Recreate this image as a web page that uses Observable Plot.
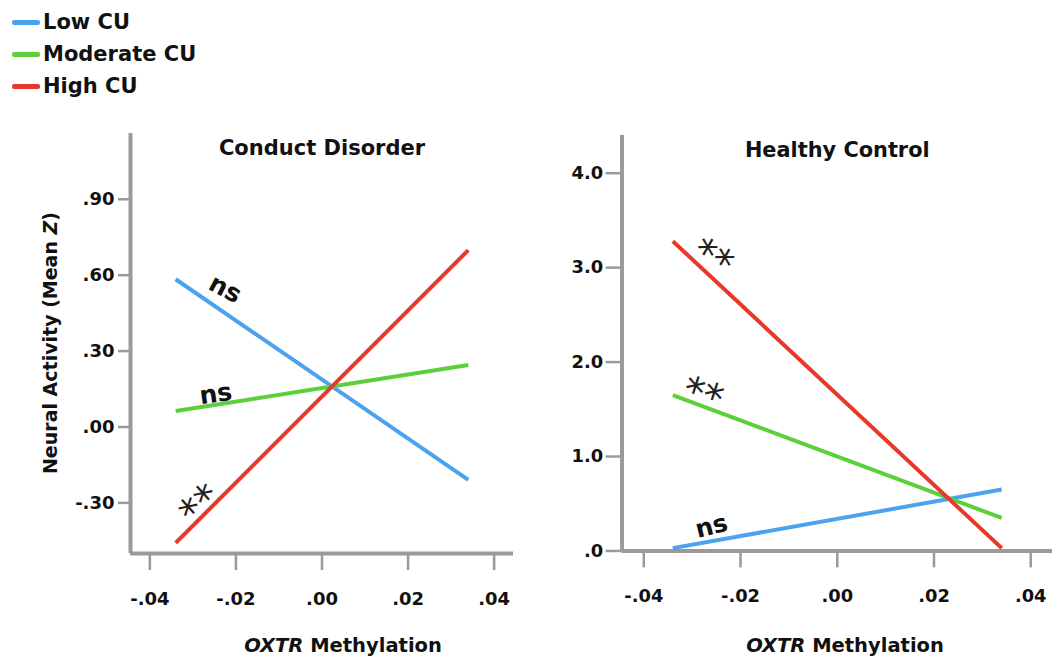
<!DOCTYPE html>
<html>
<head>
<meta charset="utf-8">
<script src="https://cdn.jsdelivr.net/npm/d3@7"></script>
<script src="https://cdn.jsdelivr.net/npm/@observablehq/plot@0.6"></script>
<style>
  body { margin: 0; background: #fff; }
  #wrap { position: relative; width: 1052px; height: 662px; font-family: "DejaVu Sans", sans-serif; color: #111; overflow: hidden; }
  .abs { position: absolute; }
  .legend-item { position: absolute; left: 12px; display: flex; align-items: center; font-weight: bold; font-size: 21px; white-space: nowrap; line-height: 1; }
  .legend-item .sw { width: 28px; height: 5px; border-radius: 2px; margin-right: 3px; }
  .xlab { position: absolute; font-weight: bold; font-size: 19.5px; white-space: nowrap; transform: translate(-50%, -50%); line-height: 1; }
  .ylab { position: absolute; font-weight: bold; font-size: 19px; white-space: nowrap; transform: translate(-50%, -50%) rotate(-90deg); line-height: 1; }
</style>
</head>
<body>
<div id="wrap">
  <div id="legend"></div>
  <div id="left" class="abs" style="left:0px; top:120px;"></div>
  <div id="right" class="abs" style="left:540px; top:120px;"></div>
  <div class="ylab" style="left:50px; top:343px;">Neural Activity (Mean <i>Z</i>)</div>
  <div class="xlab" style="left:343px; top:646px;"><i>OXTR</i> Methylation</div>
  <div class="xlab" style="left:845px; top:646px;"><i>OXTR</i> Methylation</div>
</div>
<script>
// ---- data ----
const series = ["Low CU", "Moderate CU", "High CU"];
const colors = ["#4ba3ef", "#5ccf3b", "#e8382b"];
const xEnds = [-0.034, 0.034];
const xTicks = [-0.04, -0.02, 0.00, 0.02, 0.04];

const panelTitles = ["Conduct Disorder", "Healthy Control"];

// Conduct Disorder panel
const cdLow = [0.584, -0.209];
const cdModerate = [0.063, 0.245];
const cdHigh = [-0.458, 0.699];
const cdYTicks = [-0.30, 0.00, 0.30, 0.60, 0.90];
const cdYDomain = [-0.5, 1.16];

// Healthy Control panel
const hcLow = [0.03, 0.65];
const hcModerate = [1.65, 0.35];
const hcHigh = [3.28, 0.03];
const hcYTicks = [0, 1, 2, 3, 4];
const hcYDomain = [0, 4.4];

const xDomain = [-0.0445, 0.0445];

// significance annotations (text, x, y, rotation)
const cdNotes = [
  {text: "ns", x: -0.0225, y: 0.545, rotate: 28, style: "italic"},
  {text: "ns", x: -0.0247, y: 0.13, rotate: -8, style: "normal"},
  {text: "**", x: -0.0282, y: -0.275, rotate: -42, style: "normal"}
];
const hcNotes = [
  {text: "**", x: -0.0258, y: 3.19, rotate: 30, style: "normal"},
  {text: "**", x: -0.0278, y: 1.74, rotate: 18, style: "normal"},
  {text: "ns", x: -0.026, y: 0.26, rotate: -14, style: "normal"}
];

// ---- helpers ----
function rowsFor(valuesList) {
  const rows = [];
  valuesList.forEach((vals, i) => {
    vals.forEach((v, j) => rows.push({series: series[i], x: xEnds[j], y: v}));
  });
  return rows;
}
const fmt2 = d => (d < 0 ? "-" : "") + Math.abs(d).toFixed(2).replace(/^0\./, ".");
const fmt1 = d => (d < 0 ? "-" : "") + Math.abs(d).toFixed(1).replace(/^0\./, ".");

const FONT = "DejaVu Sans, sans-serif";

function panel({width, marginLeft, marginRight, marginTop, yDomain, yTicks, yFmt, yTickSize, yPad, lines, notes, title}) {
  const ns = notes.filter(d => d.text === "ns");
  const stars = notes.filter(d => d.text !== "ns");
  return Plot.plot({
    width, height: 542,
    marginLeft, marginRight, marginTop, marginBottom: 109,
    style: {fontFamily: FONT, background: "transparent", overflow: "visible"},
    x: {domain: xDomain},
    y: {domain: yDomain},
    color: {domain: series, range: colors},
    marks: [
      Plot.axisY({ticks: yTicks, tickFormat: yFmt, tickSize: yTickSize, tickPadding: yPad, stroke: "#9a9a9a", strokeWidth: 2.5,
        fill: "#111", fontSize: 18, fontWeight: "bold", label: null}),
      Plot.axisX({ticks: xTicks, tickFormat: fmt2, tickSize: 17, tickPadding: 22, stroke: "#9a9a9a", strokeWidth: 2.5,
        fill: "#111", fontSize: 18, fontWeight: "bold", label: null}),
      Plot.ruleX([xDomain[0]], {stroke: "#9a9a9a", strokeWidth: 4}),
      Plot.ruleY([yDomain[0]], {stroke: "#9a9a9a", strokeWidth: 4}),
      Plot.line(rowsFor(lines), {x: "x", y: "y", z: "series", stroke: "series", strokeWidth: 4, strokeLinecap: "butt"}),
      Plot.text(ns, {x: "x", y: "y", text: "text", rotate: "rotate", fontSize: 25, fontWeight: "bold", fontStyle: d => d.style,
        fill: "#111"}),
      Plot.text(stars, {x: "x", y: "y", text: "text", rotate: "rotate", fontSize: 40, fontWeight: "normal", dy: 9,
        fill: "#222"}),
      Plot.text([title], {frameAnchor: "top", dy: 7, text: d => d, fontSize: 21, fontWeight: "bold", fill: "#111"})
    ]
  });
}

document.getElementById("left").append(panel({
  width: 530, marginLeft: 130, marginRight: 17, marginTop: 13,
  yDomain: cdYDomain, yTicks: cdYTicks, yFmt: fmt2, yTickSize: 12, yPad: 4,
  lines: [cdLow, cdModerate, cdHigh], notes: cdNotes, title: panelTitles[0]
}));
document.getElementById("right").append(panel({
  width: 515, marginLeft: 82, marginRight: 0, marginTop: 15,
  yDomain: hcYDomain, yTicks: hcYTicks, yFmt: fmt1, yTickSize: 16, yPad: 3,
  lines: [hcLow, hcModerate, hcHigh], notes: hcNotes, title: panelTitles[1]
}));

// legend
const legend = document.getElementById("legend");
series.forEach((s, i) => {
  const item = document.createElement("div");
  item.className = "legend-item";
  item.style.top = (12 + i * 32) + "px";
  item.innerHTML = `<span class="sw" style="background:${colors[i]}"></span><span>${s}</span>`;
  legend.append(item);
});
</script>
</body>
</html>
